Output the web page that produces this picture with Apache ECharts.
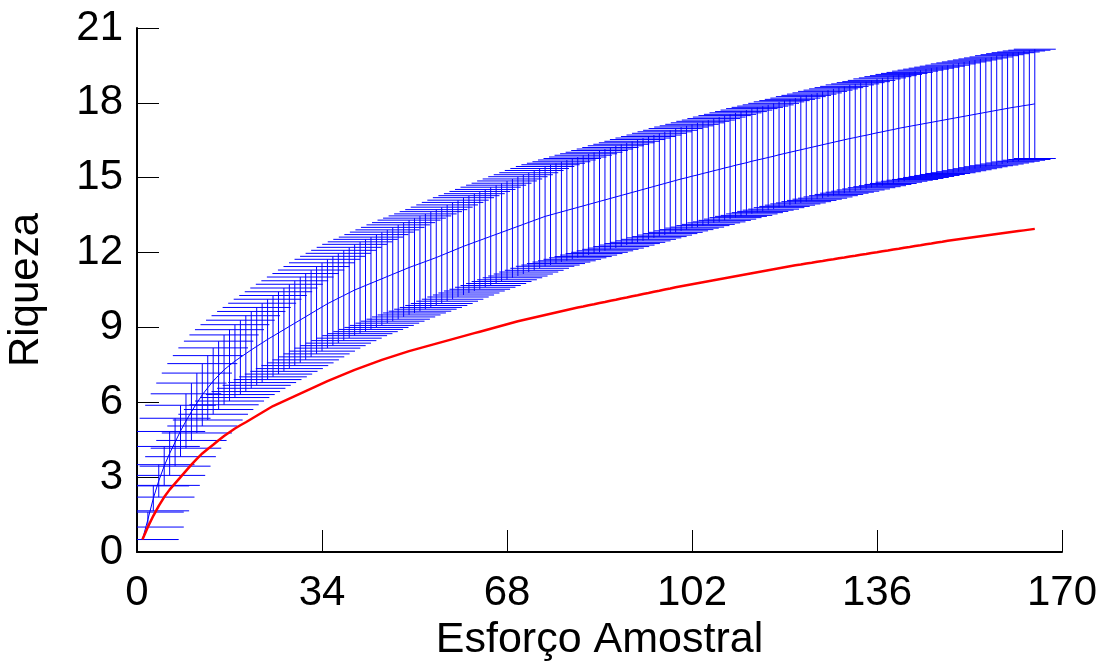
<!DOCTYPE html>
<html>
<head>
<meta charset="utf-8">
<script src="https://cdn.jsdelivr.net/npm/echarts@6/dist/echarts.min.js"></script>
<style>
html,body{margin:0;padding:0;background:#fff;}
#c{width:1107px;height:668px;}
</style>
</head>
<body>
<div id="c"></div>
<script>
// Sample effort 1..165
const effort = Array.from({length: 165}, (_, i) => i + 1);

// Blue: mean richness (estimated)
const meanRichness = [
0.5,1.3,2.15,2.85,3.45,3.95,4.4,4.85,5.25,5.62,
5.97,6.3,6.58,6.85,7.08,7.3,7.48,7.65,7.8,7.95,
8.1,8.24,8.38,8.52,8.65,8.78,8.91,9.04,9.17,9.3,
9.43,9.56,9.69,9.82,9.95,10.06,10.17,10.28,10.39,10.5,
10.59,10.68,10.77,10.86,10.95,11.04,11.13,11.22,11.31,11.4,
11.48,11.56,11.64,11.72,11.8,11.89,11.98,12.07,12.16,12.25,
12.33,12.41,12.49,12.57,12.65,12.73,12.81,12.89,12.97,13.05,
13.13,13.21,13.29,13.37,13.45,13.51,13.57,13.63,13.69,13.75,
13.81,13.87,13.93,13.99,14.05,14.11,14.17,14.23,14.29,14.35,
14.41,14.47,14.53,14.59,14.65,14.71,14.77,14.83,14.89,14.95,
15.0,15.06,15.11,15.17,15.22,15.28,15.33,15.39,15.44,15.5,
15.55,15.6,15.66,15.71,15.76,15.81,15.86,15.92,15.97,16.02,
16.07,16.12,16.17,16.22,16.27,16.32,16.37,16.42,16.47,16.52,
16.57,16.61,16.66,16.7,16.75,16.8,16.84,16.89,16.93,16.98,
17.02,17.06,17.1,17.14,17.18,17.22,17.26,17.3,17.34,17.38,
17.42,17.46,17.5,17.54,17.58,17.62,17.66,17.7,17.74,17.78,
17.82,17.85,17.89,17.92,17.96
];

// Blue: standard deviation (error bar half-length)
const sdRichness = [
0,0.3,0.5,0.65,0.78,0.88,0.96,1.03,1.09,1.15,
1.2,1.25,1.29,1.33,1.37,1.4,1.43,1.46,1.49,1.52,
1.54,1.56,1.59,1.61,1.63,1.65,1.67,1.69,1.7,1.72,
1.73,1.74,1.75,1.77,1.78,1.79,1.8,1.81,1.82,1.83,
1.84,1.85,1.85,1.86,1.87,1.87,1.88,1.89,1.89,1.9,
1.9,1.91,1.91,1.92,1.92,1.93,1.93,1.94,1.94,1.95,
1.95,1.95,1.96,1.96,1.97,1.97,1.97,1.98,1.98,1.99,
1.99,1.99,2.0,2.0,2.0,2.01,2.01,2.01,2.02,2.02,
2.02,2.03,2.03,2.03,2.04,2.04,2.04,2.05,2.05,2.05,
2.05,2.06,2.06,2.06,2.06,2.07,2.07,2.07,2.08,2.08,
2.08,2.08,2.09,2.09,2.09,2.09,2.1,2.1,2.1,2.1,
2.1,2.11,2.11,2.11,2.11,2.11,2.12,2.12,2.12,2.12,
2.12,2.13,2.13,2.13,2.13,2.14,2.14,2.14,2.14,2.14,
2.15,2.15,2.15,2.15,2.15,2.16,2.16,2.16,2.16,2.16,
2.16,2.16,2.17,2.17,2.17,2.17,2.17,2.17,2.17,2.18,
2.18,2.18,2.18,2.18,2.18,2.18,2.18,2.19,2.19,2.19,
2.19,2.19,2.19,2.19,2.19
];

// Red: observed richness curve (estimated)
const redRichness = [
0.5,1.0,1.45,1.85,2.2,2.5,2.75,3.0,3.25,3.5,
3.73,3.95,4.13,4.3,4.48,4.65,4.8,4.95,5.08,5.2,
5.33,5.46,5.59,5.72,5.85,5.95,6.05,6.15,6.25,6.35,
6.45,6.55,6.65,6.75,6.85,6.94,7.03,7.12,7.21,7.3,
7.38,7.46,7.54,7.62,7.7,7.77,7.84,7.91,7.98,8.05,
8.11,8.17,8.23,8.29,8.35,8.41,8.47,8.53,8.59,8.65,
8.71,8.77,8.83,8.89,8.95,9.01,9.07,9.13,9.19,9.25,
9.3,9.35,9.4,9.45,9.5,9.55,9.6,9.65,9.7,9.75,
9.8,9.84,9.89,9.93,9.98,10.02,10.07,10.11,10.16,10.2,
10.25,10.29,10.34,10.38,10.43,10.47,10.52,10.56,10.61,10.65,
10.69,10.73,10.77,10.81,10.85,10.89,10.93,10.97,11.01,11.05,
11.09,11.13,11.17,11.21,11.25,11.29,11.33,11.37,11.41,11.45,
11.49,11.52,11.56,11.59,11.63,11.66,11.7,11.73,11.77,11.8,
11.84,11.87,11.91,11.94,11.98,12.01,12.05,12.08,12.12,12.15,
12.19,12.22,12.26,12.29,12.33,12.36,12.4,12.43,12.47,12.5,
12.53,12.56,12.59,12.62,12.65,12.68,12.71,12.74,12.77,12.8,
12.83,12.86,12.89,12.92,12.95
];

const xTicks = [0, 34, 68, 102, 136, 170];
const yTicks = [0, 3, 6, 9, 12, 15, 18, 21];
const xTitle = 'Esforço Amostral';
const yTitle = 'Riqueza';

const errData = effort.map((x, i) => [x, meanRichness[i] - sdRichness[i], meanRichness[i] + sdRichness[i]]);
const meanData = effort.map((x, i) => [x, meanRichness[i]]);
const redData = effort.map((x, i) => [x, redRichness[i]]);

const chart = echarts.init(document.getElementById('c'), null, {renderer: 'canvas'});
const FONT = 'Liberation Sans, Arial, sans-serif';
const axisCommon = {
  axisLine: {show: true, lineStyle: {color: '#000', width: 2}},
  axisTick: {show: true, inside: true, length: 22, lineStyle: {color: '#000', width: 1}},
  splitLine: {show: false}
};
chart.setOption({
  animation: false,
  backgroundColor: '#fff',
  grid: {left: 137, right: 45, top: 28, bottom: 116, containLabel: false, outerBoundsMode: 'none'},
  xAxis: Object.assign({}, axisCommon, {
    type: 'value', min: xTicks[0], max: xTicks[xTicks.length - 1], interval: 34,
    name: xTitle, nameLocation: 'middle', nameGap: 66,
    nameTextStyle: {fontFamily: FONT, fontSize: 43, color: '#000'},
    axisLabel: {fontFamily: FONT, fontSize: 42, color: '#000', margin: 20}
  }),
  yAxis: Object.assign({}, axisCommon, {
    type: 'value', min: yTicks[0], max: yTicks[yTicks.length - 1], interval: 3,
    name: yTitle, nameLocation: 'middle', nameGap: 90, nameRotate: 90,
    nameTextStyle: {fontFamily: FONT, fontSize: 42, color: '#000'},
    axisLabel: {fontFamily: FONT, fontSize: 42, color: '#000', margin: 14}
  }),
  series: [
    {
      type: 'custom',
      clip: true,
      data: errData,
      z: 2,
      renderItem: function (params, api) {
        const x = api.value(0);
        const lo = api.coord([x, api.value(1)]);
        const hi = api.coord([x, api.value(2)]);
        const hw = 36 - 15 * (x - 1) / 164;
        const style = {stroke: '#0000ff', lineWidth: 1};
        return {
          type: 'group',
          children: [
            {type: 'line', shape: {x1: lo[0], y1: lo[1], x2: hi[0], y2: hi[1]}, style: style},
            {type: 'line', shape: {x1: lo[0] - hw, y1: lo[1], x2: lo[0] + hw, y2: lo[1]}, style: style},
            {type: 'line', shape: {x1: hi[0] - hw, y1: hi[1], x2: hi[0] + hw, y2: hi[1]}, style: style}
          ]
        };
      }
    },
    {
      type: 'line', data: meanData, showSymbol: false, z: 3,
      lineStyle: {color: '#0000ff', width: 1}
    },
    {
      type: 'line', data: redData, showSymbol: false, z: 4,
      lineStyle: {color: '#ff0000', width: 2.5}
    }
  ]
});
</script>
</body>
</html>
